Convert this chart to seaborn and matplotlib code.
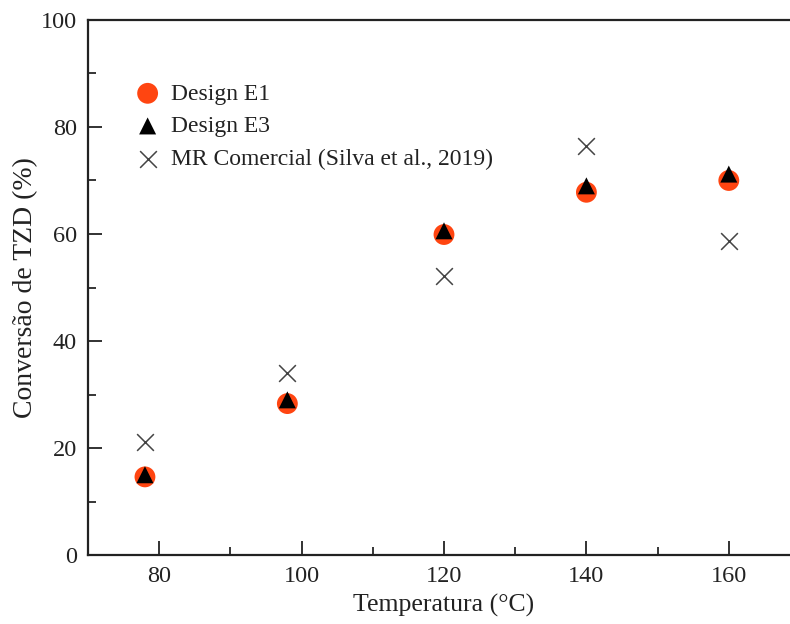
import matplotlib
matplotlib.use("Agg")
import matplotlib.pyplot as plt
from matplotlib.ticker import MultipleLocator
import pandas as pd
import seaborn as sns

# data
temps = [78, 98, 120, 140, 160]
design_e1 = [14.6, 28.3, 59.9, 67.8, 70.0]
design_e3 = [15.0, 29.0, 60.6, 69.0, 71.2]
mr_comercial = [21.1, 34.0, 52.2, 76.5, 58.6]

labels = ["Design E1", "Design E3", "MR Comercial (Silva et al., 2019)"]

sns.set_theme(style="ticks")
plt.rcParams["font.family"] = ["Liberation Serif", "DejaVu Serif"]

fig = plt.figure(figsize=(7.9, 6.24), dpi=100)
ax = fig.add_axes([88 / 790, 1 - 555 / 624, 712 / 790, 535 / 624])

sns.scatterplot(x=temps, y=design_e1, ax=ax, marker="o", s=225, color="#FF4511",
                edgecolor="none", label=labels[0], zorder=3)
sns.scatterplot(x=temps, y=design_e3, ax=ax, marker="^", s=150, color="black",
                edgecolor="none", label=labels[1], zorder=4)
sns.scatterplot(x=temps, y=mr_comercial, ax=ax, marker="x", s=145, color="#444444",
                linewidth=1.1, label=labels[2], zorder=5)

ax.set_xlim(70, 170)
ax.set_ylim(0, 100)
ax.xaxis.set_major_locator(MultipleLocator(20))
ax.xaxis.set_minor_locator(MultipleLocator(10))
ax.yaxis.set_major_locator(MultipleLocator(20))
ax.yaxis.set_minor_locator(MultipleLocator(10))
ax.tick_params(which="major", direction="in", length=10, width=1.3, labelsize=17.5,
               colors="#222222", pad=8)
ax.tick_params(which="minor", direction="in", length=6, width=1.3)
ax.spines["right"].set_visible(False)
for side in ["left", "bottom", "top"]:
    ax.spines[side].set_linewidth(1.6)
    ax.spines[side].set_color("#222222")

ax.set_xlabel("Temperatura (°C)", fontsize=18.5, color="#222222", labelpad=5)
ax.set_ylabel("Conversão de TZD (%)", fontsize=20, color="#222222", labelpad=2)

leg = ax.legend(loc="upper left", bbox_to_anchor=(0.034, 0.922), frameon=False,
                fontsize=17, handletextpad=0.4, handlelength=1.2, labelspacing=0.47,
                markerscale=1.0)
for t in leg.get_texts():
    t.set_color("#222222")

fig.savefig("out.png", dpi=100)
